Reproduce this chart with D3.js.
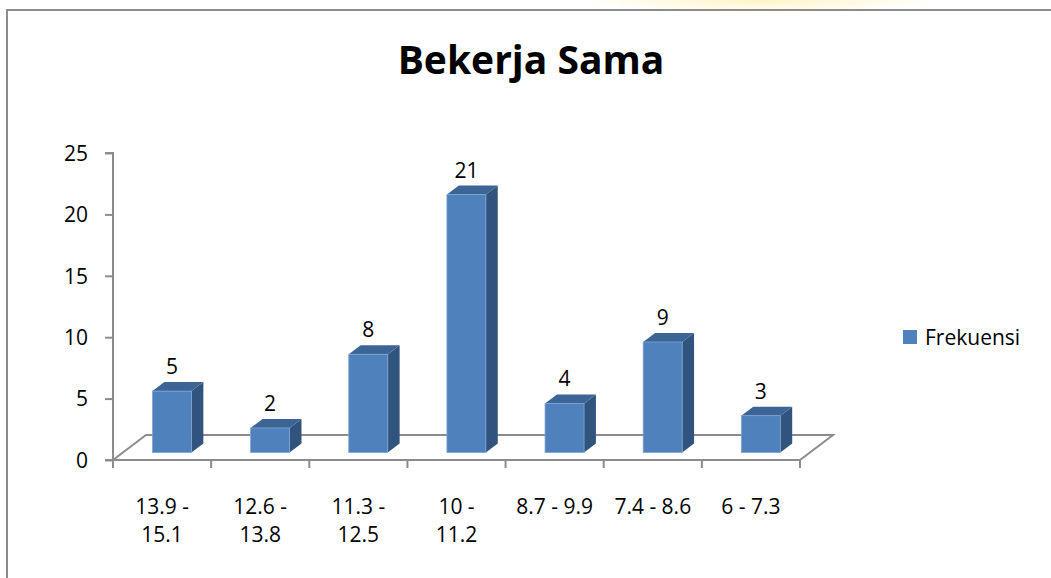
<!DOCTYPE html>
<html>
<head>
<meta charset="utf-8">
<script src="https://cdn.jsdelivr.net/npm/d3@7"></script>
<style>
  body { margin: 0; background: #fff; }
  text { font-family: "Open Sans", "Noto Sans", sans-serif; fill: #000; }
</style>
</head>
<body>
<div id="chart"></div>
<script>
// data
var categories = ["13.9 - 15.1", "12.6 - 13.8", "11.3 - 12.5", "10 - 11.2", "8.7 - 9.9", "7.4 - 8.6", "6 - 7.3"];
var categoryLines = [["13.9 -", "15.1"], ["12.6 -", "13.8"], ["11.3 -", "12.5"], ["10 -", "11.2"], ["8.7 - 9.9"], ["7.4 - 8.6"], ["6 - 7.3"]];
var frekuensi = [5, 2, 8, 21, 4, 9, 3];
var yTicks = [0, 5, 10, 15, 20, 25];
var seriesName = "Frekuensi";
var chartTitle = "Bekerja Sama";

var svgWidth = 1051;
var svgHeight = 578;

var plot = { left: 113, right: 800, top: 153, bottom: 460 };
var depth = { dx: 33, dy: -25 };   // floor depth
var f1 = 0.3, f2 = 0.66;            // bar front/back as fraction of depth

var svg = d3.select("#chart")
  .append("svg")
  .attr("width", svgWidth)
  .attr("height", svgHeight);

// faint glow at the top
var defs = svg.append("defs");
var glow = defs.append("radialGradient").attr("id", "glow");
glow.append("stop").attr("offset", "0%").attr("stop-color", "#fff3c0").attr("stop-opacity", 0.9);
glow.append("stop").attr("offset", "100%").attr("stop-color", "#fff3c0").attr("stop-opacity", 0);
svg.append("ellipse")
  .attr("cx", 760).attr("cy", 0).attr("rx", 180).attr("ry", 14)
  .attr("fill", "url(#glow)");

// chart border
svg.append("path")
  .attr("d", `M7,${svgHeight} V10 H${svgWidth}`)
  .attr("fill", "none")
  .attr("stroke", "#8c8c8c")
  .attr("stroke-width", 2);

// title
svg.append("text")
  .attr("x", 531)
  .attr("y", 74)
  .attr("text-anchor", "middle")
  .attr("font-size", 39)
  .attr("font-weight", "bold")
  .text(chartTitle);

// scales
var x = d3.scaleBand()
  .domain(categories)
  .range([plot.left, plot.right])
  .paddingInner(0)
  .paddingOuter(0);

var y = d3.scaleLinear()
  .domain([0, 25])
  .range([plot.bottom, plot.top]);

var axisColor = "#8c8c8c";

// floor
svg.append("path")
  .attr("d", `M${plot.left},${plot.bottom} L${plot.left + depth.dx},${plot.bottom + depth.dy} H${plot.right + depth.dx} L${plot.right},${plot.bottom}`)
  .attr("fill", "none")
  .attr("stroke", axisColor)
  .attr("stroke-width", 2);

// y axis
var leftAxis = d3.axisLeft(y).tickValues(yTicks).tickSize(8).tickPadding(17);
var gy = svg.append("g")
  .attr("transform", `translate(${plot.left},0)`)
  .call(leftAxis);
gy.select(".domain").attr("stroke", axisColor).attr("stroke-width", 2).attr("d", `M-8,${y(25)}H0V${y(0)}H-8`);
gy.selectAll(".tick line").attr("stroke", axisColor).attr("stroke-width", 2);
gy.selectAll(".tick text").attr("font-size", 21).attr("font-family", "Open Sans, sans-serif").attr("fill", "#000").attr("dy", "0.35em");

// x axis
var bottomAxis = d3.axisBottom(x).tickSize(0).tickFormat("");
var gx = svg.append("g")
  .attr("transform", `translate(0,${plot.bottom})`)
  .call(bottomAxis);
gx.select(".domain").attr("stroke", axisColor).attr("stroke-width", 2).attr("d", `M${plot.left},0H${plot.right}`);
var tickPos = categories.map(function(c) { return x(c); }).concat([plot.right]);
gx.selectAll(".sep").data(tickPos).enter().append("line")
  .attr("x1", d => d).attr("x2", d => d)
  .attr("y1", 0).attr("y2", 8)
  .attr("stroke", axisColor).attr("stroke-width", 2);

// category labels
categoryLines.forEach(function(lines, i) {
  var t = svg.append("text")
    .attr("x", x(categories[i]) + x.bandwidth() / 2)
    .attr("y", 514)
    .attr("text-anchor", "middle")
    .attr("font-size", 21);
  lines.forEach(function(l, j) {
    t.append("tspan")
      .attr("x", x(categories[i]) + x.bandwidth() / 2)
      .attr("dy", j === 0 ? 0 : 28)
      .text(l);
  });
});

// bars
var barW = 39;
var frontColor = "#4f81bd", topColor = "#3c6595", sideColor = "#31547f";
var bars = svg.selectAll(".bar").data(frekuensi).enter().append("g").attr("class", "bar");

bars.each(function(v, i) {
  var g = d3.select(this);
  var x0 = x(categories[i]) + (x.bandwidth() - barW) / 2 + depth.dx * f1;
  var base = y(0) + depth.dy * f1;
  var topY = y(v) + depth.dy * f1;
  var ox = depth.dx * (f2 - f1), oy = depth.dy * (f2 - f1);
  // side
  g.append("path")
    .attr("d", `M${x0 + barW},${base} L${x0 + barW + ox},${base + oy} V${topY + oy} L${x0 + barW},${topY} Z`)
    .attr("fill", sideColor);
  // top
  g.append("path")
    .attr("d", `M${x0},${topY} L${x0 + ox},${topY + oy} H${x0 + barW + ox} L${x0 + barW},${topY} Z`)
    .attr("fill", topColor);
  // front
  g.append("rect")
    .attr("x", x0).attr("y", topY)
    .attr("width", barW).attr("height", base - topY)
    .attr("fill", frontColor)
    .attr("stroke", "#7ea3d3").attr("stroke-width", 0.8);
  // value label
  g.append("text")
    .attr("x", x0 + barW / 2)
    .attr("y", topY + oy - 8)
    .attr("text-anchor", "middle")
    .attr("font-size", 21)
    .text(v);
});

// legend
svg.append("rect")
  .attr("x", 903).attr("y", 330)
  .attr("width", 14).attr("height", 14)
  .attr("fill", frontColor);
svg.append("text")
  .attr("x", 925).attr("y", 345)
  .attr("font-size", 21)
  .text(seriesName);
</script>
</body>
</html>
